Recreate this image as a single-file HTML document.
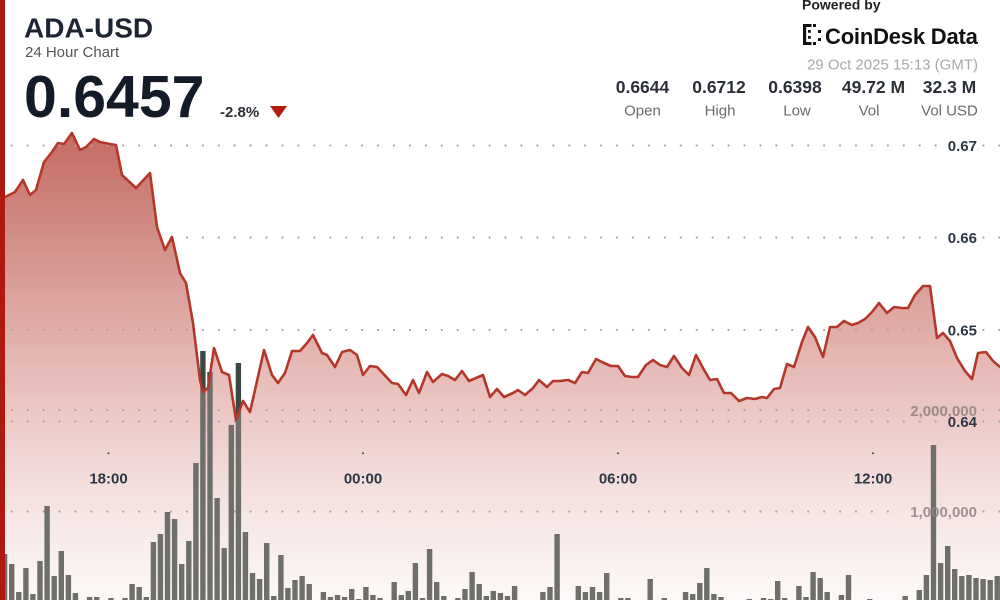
<!DOCTYPE html>
<html>
<head>
<meta charset="utf-8">
<style>
html,body{margin:0;padding:0;background:#fff;}
svg{display:block;}
text{font-family:"Liberation Sans",Arial,sans-serif;}
</style>
</head>
<body>
<svg width="1000" height="600" viewBox="0 0 1000 600" xmlns="http://www.w3.org/2000/svg">
<defs>
<linearGradient id="fillg" gradientUnits="userSpaceOnUse" x1="0" y1="130" x2="0" y2="600">
<stop offset="0" stop-color="#c46a62"/>
<stop offset="0.25" stop-color="#d4918b"/>
<stop offset="0.5" stop-color="#e6b9b5"/>
<stop offset="0.75" stop-color="#f3dedc"/>
<stop offset="1" stop-color="#fdf9f9"/>
</linearGradient>
<clipPath id="areaClip">
<path id="areaP" d="M0,198 L5,197 L15,192 L23,180 L30,195 L36,190 L44,162 L52,152 L58,143 L64,144 L72,133 L80,150 L86,147 L94,139 L100,142 L110,144 L116,145 L122,175 L136,188 L150,173 L157,227 L165,250 L172,237 L180,273 L186,283 L193,323 L200,380 L203,392 L208,388 L214,348 L222,372 L229,375 L236,420 L243,401 L250,412 L264,350 L272,375 L278,383 L285,373 L292,351 L300,351 L307,343 L313,335 L322,353 L327,355 L335,367 L342,352 L350,350 L357,355 L363,375 L370,366 L377,367 L392,383 L398,384 L406,395 L413,380 L419,393 L427,372 L433,382 L442,374 L448,376 L455,380 L462,371 L469,381 L476,378 L483,375 L490,397 L497,389 L504,397 L513,393 L518,390 L525,395 L533,388 L539,380 L547,387 L553,381 L560,381 L568,380 L575,383 L582,372 L588,373 L596,359 L604,363 L611,366 L618,366 L625,376 L632,377 L638,377 L646,365 L653,360 L660,365 L667,367 L674,356 L682,368 L689,375 L696,355 L703,368 L710,380 L717,379 L724,393 L731,393 L739,401 L747,398 L755,399 L762,397 L767,398 L774,389 L780,388 L787,364 L794,367 L802,342 L808,327 L815,337 L823,357 L830,327 L837,327 L844,321 L852,325 L858,323 L865,319 L872,312 L879,303 L887,313 L894,307 L902,308 L908,308 L915,295 L923,286 L930,286 L937,338 L943,333 L950,341 L957,358 L965,371 L972,379 L978,353 L986,352 L993,361 L1000,367 L1000,620 L0,620 Z"/>
</clipPath>
<path id="bars" d="M1.9 554h5.4V613h-5.4z M9 564h5.4V613h-5.4z M16.1 592h5.4V613h-5.4z M23.2 568h5.4V613h-5.4z M30.2 594h5.4V613h-5.4z M37.3 561h5.4V613h-5.4z M44.4 506h5.4V613h-5.4z M51.5 576h5.4V613h-5.4z M58.6 551h5.4V613h-5.4z M65.7 575h5.4V613h-5.4z M72.7 593h5.4V613h-5.4z M86.9 597h5.4V613h-5.4z M94 597h5.4V613h-5.4z M108.2 598h5.4V613h-5.4z M122.3 598h5.4V613h-5.4z M129.4 584h5.4V613h-5.4z M136.5 587h5.4V613h-5.4z M143.6 597h5.4V613h-5.4z M150.7 542h5.4V613h-5.4z M157.7 534h5.4V613h-5.4z M164.8 512h5.4V613h-5.4z M171.9 519h5.4V613h-5.4z M179 564h5.4V613h-5.4z M186.1 541h5.4V613h-5.4z M193.2 463h5.4V613h-5.4z M200.2 351h5.4V613h-5.4z M207.3 372h5.4V613h-5.4z M214.4 498h5.4V613h-5.4z M221.5 548h5.4V613h-5.4z M228.6 425h5.4V613h-5.4z M235.7 363h5.4V613h-5.4z M242.7 532h5.4V613h-5.4z M249.8 573h5.4V613h-5.4z M256.9 579h5.4V613h-5.4z M264 543h5.4V613h-5.4z M271.1 596h5.4V613h-5.4z M278.2 555h5.4V613h-5.4z M285.2 588h5.4V613h-5.4z M292.3 580h5.4V613h-5.4z M299.4 576h5.4V613h-5.4z M306.5 584h5.4V613h-5.4z M320.7 592h5.4V613h-5.4z M327.7 597h5.4V613h-5.4z M334.8 595h5.4V613h-5.4z M341.9 597h5.4V613h-5.4z M349 589h5.4V613h-5.4z M356.1 599h5.4V613h-5.4z M363.2 587h5.4V613h-5.4z M370.2 595h5.4V613h-5.4z M377.3 598h5.4V613h-5.4z M391.5 582h5.4V613h-5.4z M398.6 595h5.4V613h-5.4z M405.6 591h5.4V613h-5.4z M412.7 563h5.4V613h-5.4z M419.8 598h5.4V613h-5.4z M426.9 549h5.4V613h-5.4z M434 582h5.4V613h-5.4z M441.1 596h5.4V613h-5.4z M455.2 598h5.4V613h-5.4z M462.3 589h5.4V613h-5.4z M469.4 572h5.4V613h-5.4z M476.5 584h5.4V613h-5.4z M483.6 596h5.4V613h-5.4z M490.6 591h5.4V613h-5.4z M497.7 593h5.4V613h-5.4z M504.8 596h5.4V613h-5.4z M511.9 586h5.4V613h-5.4z M540.2 592h5.4V613h-5.4z M547.3 587h5.4V613h-5.4z M554.4 534h5.4V613h-5.4z M575.6 586h5.4V613h-5.4z M582.7 592h5.4V613h-5.4z M589.8 587h5.4V613h-5.4z M596.9 592h5.4V613h-5.4z M604 573h5.4V613h-5.4z M618.1 598h5.4V613h-5.4z M625.2 598h5.4V613h-5.4z M647.5 579h5.4V613h-5.4z M661.6 598h5.4V613h-5.4z M668.7 600h5.4V613h-5.4z M682.9 592h5.4V613h-5.4z M690 594h5.4V613h-5.4z M697.1 583h5.4V613h-5.4z M704.1 568h5.4V613h-5.4z M711.2 594h5.4V613h-5.4z M718.3 597h5.4V613h-5.4z M746.6 599h5.4V613h-5.4z M760.8 598h5.4V613h-5.4z M767.9 599h5.4V613h-5.4z M775 581h5.4V613h-5.4z M782 598h5.4V613h-5.4z M796.2 586h5.4V613h-5.4z M803.3 597h5.4V613h-5.4z M810.4 572h5.4V613h-5.4z M817.5 578h5.4V613h-5.4z M824.5 592h5.4V613h-5.4z M838.7 595h5.4V613h-5.4z M845.8 575h5.4V613h-5.4z M867 599h5.4V613h-5.4z M902.5 596h5.4V613h-5.4z M916.6 590h5.4V613h-5.4z M923.7 575h5.4V613h-5.4z M930.8 445h5.4V613h-5.4z M937.9 563h5.4V613h-5.4z M945 546h5.4V613h-5.4z M952 569h5.4V613h-5.4z M959.1 576h5.4V613h-5.4z M966.2 575h5.4V613h-5.4z M973.3 578h5.4V613h-5.4z M980.4 579h5.4V613h-5.4z M987.5 580h5.4V613h-5.4z M994.5 576h5.4V613h-5.4z"/>
</defs>
<rect x="0" y="0" width="1000" height="600" fill="#ffffff"/>
<use href="#bars" fill="#3c4844"/>
<use href="#areaP" fill="url(#fillg)"/>
<g stroke="#aba5a5" stroke-width="2.2" stroke-linecap="round" stroke-dasharray="0 15.93" fill="none">
<path d="M11.7 145.5H942M983.4 145.5H1000M11.7 237.5H942M983.4 237.5H1000M11.7 330H942M983.4 330H1000M11.7 410H903M983.4 410H1000M11.7 421.5H942M983.4 421.5H1000M11.7 511.5H903M983.4 511.5H1000"/>
</g>
<g clip-path="url(#areaClip)"><use href="#bars" fill="#6e6f6a"/></g>
<path d="M0,198 L5,197 L15,192 L23,180 L30,195 L36,190 L44,162 L52,152 L58,143 L64,144 L72,133 L80,150 L86,147 L94,139 L100,142 L110,144 L116,145 L122,175 L136,188 L150,173 L157,227 L165,250 L172,237 L180,273 L186,283 L193,323 L200,380 L203,392 L208,388 L214,348 L222,372 L229,375 L236,420 L243,401 L250,412 L264,350 L272,375 L278,383 L285,373 L292,351 L300,351 L307,343 L313,335 L322,353 L327,355 L335,367 L342,352 L350,350 L357,355 L363,375 L370,366 L377,367 L392,383 L398,384 L406,395 L413,380 L419,393 L427,372 L433,382 L442,374 L448,376 L455,380 L462,371 L469,381 L476,378 L483,375 L490,397 L497,389 L504,397 L513,393 L518,390 L525,395 L533,388 L539,380 L547,387 L553,381 L560,381 L568,380 L575,383 L582,372 L588,373 L596,359 L604,363 L611,366 L618,366 L625,376 L632,377 L638,377 L646,365 L653,360 L660,365 L667,367 L674,356 L682,368 L689,375 L696,355 L703,368 L710,380 L717,379 L724,393 L731,393 L739,401 L747,398 L755,399 L762,397 L767,398 L774,389 L780,388 L787,364 L794,367 L802,342 L808,327 L815,337 L823,357 L830,327 L837,327 L844,321 L852,325 L858,323 L865,319 L872,312 L879,303 L887,313 L894,307 L902,308 L908,308 L915,295 L923,286 L930,286 L937,338 L943,333 L950,341 L957,358 L965,371 L972,379 L978,353 L986,352 L993,361 L1000,367" fill="none" stroke="#b4372b" stroke-width="2.6" stroke-linejoin="round" stroke-linecap="round"/>
<g font-size="15" font-weight="bold" fill="#2d3744" text-anchor="end">
<text x="977" y="151">0.67</text>
<text x="977" y="243">0.66</text>
<text x="977" y="335.5">0.65</text>
<text x="977" y="427">0.64</text>
</g>
<g font-size="15" font-weight="bold" fill="#8f8080" fill-opacity="0.85" text-anchor="end">
<text x="977" y="416">2,000,000</text>
<text x="977" y="517">1,000,000</text>
</g>
<g fill="#444">
<circle cx="108.5" cy="453.3" r="1"/><circle cx="363" cy="453.3" r="1"/><circle cx="618" cy="453.3" r="1"/><circle cx="873" cy="453.3" r="1"/>
</g>
<g font-size="15" font-weight="bold" fill="#2d3744" text-anchor="middle">
<text x="108.5" y="483.5">18:00</text>
<text x="363" y="483.5">00:00</text>
<text x="618" y="483.5">06:00</text>
<text x="873" y="483.5">12:00</text>
</g>
<text x="24" y="37.5" font-size="28" font-weight="bold" fill="#1d2533">ADA-USD</text>
<text x="25" y="57" font-size="15" fill="#555">24 Hour Chart</text>
<text x="24" y="117" font-size="59" font-weight="bold" fill="#131b28">0.6457</text>
<text x="220" y="117" font-size="15" font-weight="bold" fill="#2a2d33">-2.8%</text>
<polygon points="270,106 287,106 278.5,118" fill="#b01c10"/>
<text x="802" y="9.5" font-size="14" font-weight="bold" fill="#222">Powered by</text>
<path fill="#111" d="M803 24h3.2v21h-3.2z M803 24h8.5v3h-8.5z M813 24h3v3h-3z M803 42h8.5v3h-8.5z M813 42h3v3h-3z M808 30h2.8v2.8h-2.8z M808 36h2.8v2.8h-2.8z M818 30h3v3h-3z M818 38h3v3h-3z"/>
<text x="825" y="44" font-size="22" font-weight="bold" fill="#111" letter-spacing="-0.2">CoinDesk Data</text>
<text x="978" y="69.5" font-size="15" fill="#a8a8a8" text-anchor="end">29 Oct 2025 15:13 (GMT)</text>
<g font-size="17.5" font-weight="bold" fill="#2a2f38" text-anchor="middle">
<text x="642.5" y="93">0.6644</text>
<text x="719" y="93">0.6712</text>
<text x="795" y="93">0.6398</text>
<text x="873.5" y="93">49.72 M</text>
<text x="949.5" y="93">32.3 M</text>
</g>
<g font-size="15" fill="#6a6a6a" text-anchor="middle">
<text x="642.5" y="115.5">Open</text>
<text x="720" y="115.5">High</text>
<text x="797" y="115.5">Low</text>
<text x="869" y="115.5">Vol</text>
<text x="949.5" y="115.5">Vol USD</text>
</g>
<rect x="0" y="0" width="5" height="600" fill="#b01a0e"/>
</svg>
</body>
</html>
